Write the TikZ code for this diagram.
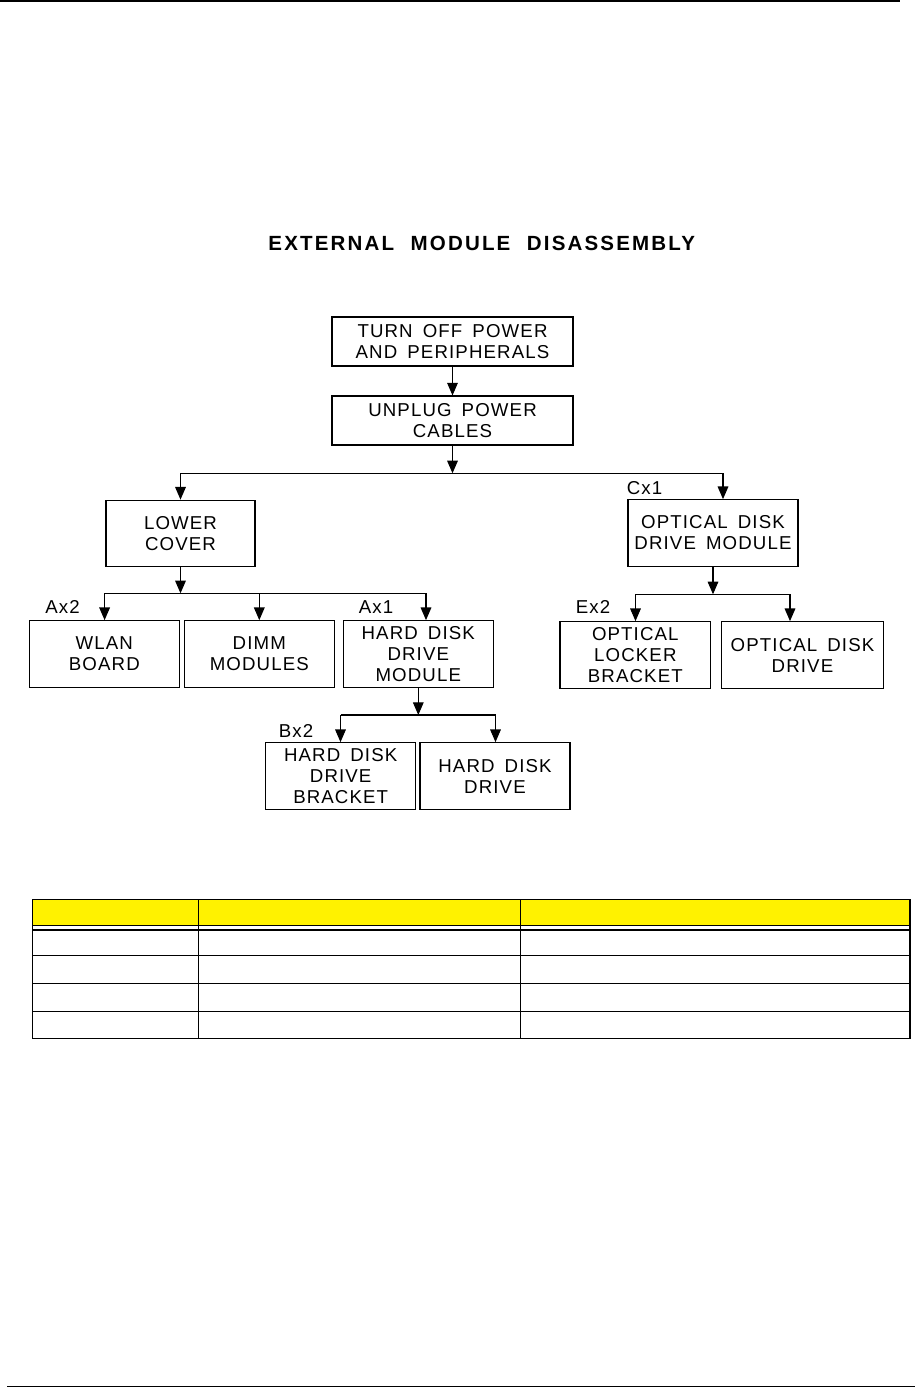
\documentclass[tikz,border=0pt]{standalone}
\usepackage{fontspec}
\setmainfont{Liberation Sans}
\newfontfamily\boxfont[LetterSpace=6,WordSpace=1.6]{Liberation Sans}
\newfontfamily\titlefont[LetterSpace=10.5,WordSpace=2.1]{Liberation Sans}
\usetikzlibrary{arrows.meta}

\begin{document}
\begin{tikzpicture}[x=0.75pt,y=0.75pt,yscale=-1,xscale=1,
    box/.style={draw, line width=0.8pt, inner sep=0pt, align=center,
      font=\boxfont\fontsize{14pt}{15.75pt}\selectfont,
      minimum width=112.5pt, minimum height=50pt},
    tag/.style={inner sep=0pt, font=\boxfont\fontsize{14pt}{15.75pt}\selectfont},
    arr/.style={line width=0.8pt, -{Triangle[length=9.5pt,width=8pt]}},
    bus/.style={line width=0.8pt}]
        \useasboundingbox (0,0) rectangle (915,1388);

        %Straight Lines (page rules)
        \draw [line width=1.5pt]  (0,1) -- (900,1) ;
        \draw [line width=1.1pt]  (7,1386.5) -- (915,1386.5) ;

        % Text Node
        \node (title) at (481.7,243.3) {\titlefont\bfseries\fontsize{15.4pt}{18pt}\selectfont EXTERNAL MODULE DISASSEMBLY};

        % Boxes
        \node [box, minimum width=180.75pt, minimum height=36.75pt] (power) at (452.5,341.5) {TURN OFF POWER\\AND PERIPHERALS};
        \node [box, minimum width=180.75pt, minimum height=36.75pt] (unplug) at (452.5,420.5) {UNPLUG POWER\\CABLES};
        \node [box, minimum width=111.75pt] (lower) at (180.5,533.5) {LOWER\\COVER};
        \node [box, minimum width=127.5pt] (oddmod) at (713,533) {OPTICAL DISK\\DRIVE MODULE};
        \node [box] (wlan) at (104.3,654) {WLAN\\BOARD};
        \node [box] (dimm) at (259.3,654) {DIMM\\MODULES};
        \node [box] (hddmod) at (418.3,654) {HARD DISK\\DRIVE\\MODULE};
        \node [box, minimum width=113pt] (olbracket) at (635.3,655) {OPTICAL\\LOCKER\\BRACKET};
        \node [box, minimum width=121.2pt] (oddrive) at (802.5,655) {OPTICAL DISK\\DRIVE};
        \node [box] (hddbracket) at (340.7,776) {HARD DISK\\DRIVE\\BRACKET};
        \node [box] (hddrive) at (495,776) {HARD DISK\\DRIVE};

        % Screw tags
        \node [tag] (cxone) at (644.5,488) {Cx1};
        \node [tag] (axtwo) at (62.5,606.7) {Ax2};
        \node [tag] (axone) at (376,606.7) {Ax1};
        \node [tag] (extwo) at (593,606.7) {Ex2};
        \node [tag] (bxtwo) at (296,730.7) {Bx2};

        % Bus ends
        \coordinate (busAl) at (180.5,473.3);
        \coordinate (busAr) at (723,473.3);
        \coordinate (busBl) at (104.6,593.3);
        \coordinate (busBr) at (426,593.3);
        \coordinate (busCl) at (635.5,594.3);
        \coordinate (busCr) at (790,594.3);
        \coordinate (busDl) at (340.5,715);
        \coordinate (busDr) at (495.5,715);

        %Straight Lines
        \draw [arr] (power.south) -- (unplug.north) ;
        \draw [arr] (unplug.south) -- (unplug.south |- busAl) ;
        \draw [bus] (busAl) -- (busAr) ;
        \draw [arr] (busAl) -- (lower.north) ;
        \draw [arr] (busAr) -- (busAr |- oddmod.north) ;

        \draw [arr] (lower.south) -- (lower.south |- busBl) ;
        \draw [bus] (busBl) -- (busBr) ;
        \draw [arr] (busBl) -- (busBl |- wlan.north) ;
        \draw [arr] (dimm.north |- busBl) -- (dimm.north) ;
        \draw [arr] (busBr) -- (busBr |- hddmod.north) ;

        \draw [arr] (oddmod.south) -- (oddmod.south |- busCl) ;
        \draw [bus] (busCl) -- (busCr) ;
        \draw [arr] (busCl) -- (busCl |- olbracket.north) ;
        \draw [arr] (busCr) -- (busCr |- oddrive.north) ;

        \draw [arr] (hddmod.south) -- (hddmod.south |- busDl) ;
        \draw [bus] (busDl) -- (busDr) ;
        \draw [arr] (busDl) -- (busDl |- hddbracket.north) ;
        \draw [arr] (busDr) -- (busDr |- hddrive.north) ;

        % Table
        \fill [yellow] (32.3,899.3) rectangle (910,925.5) ;
        \foreach \y in {899.3,925.5,930,955.7,983.3,1011.3,1038.8}
          \draw [line width=0.9pt] (32.3,\y) -- (910,\y) ;
        \foreach \x in {32.3,198.3,520.3,910}
          \draw [line width=0.9pt] (\x,899.3) -- (\x,1038.8) ;

\end{tikzpicture}
\end{document}
